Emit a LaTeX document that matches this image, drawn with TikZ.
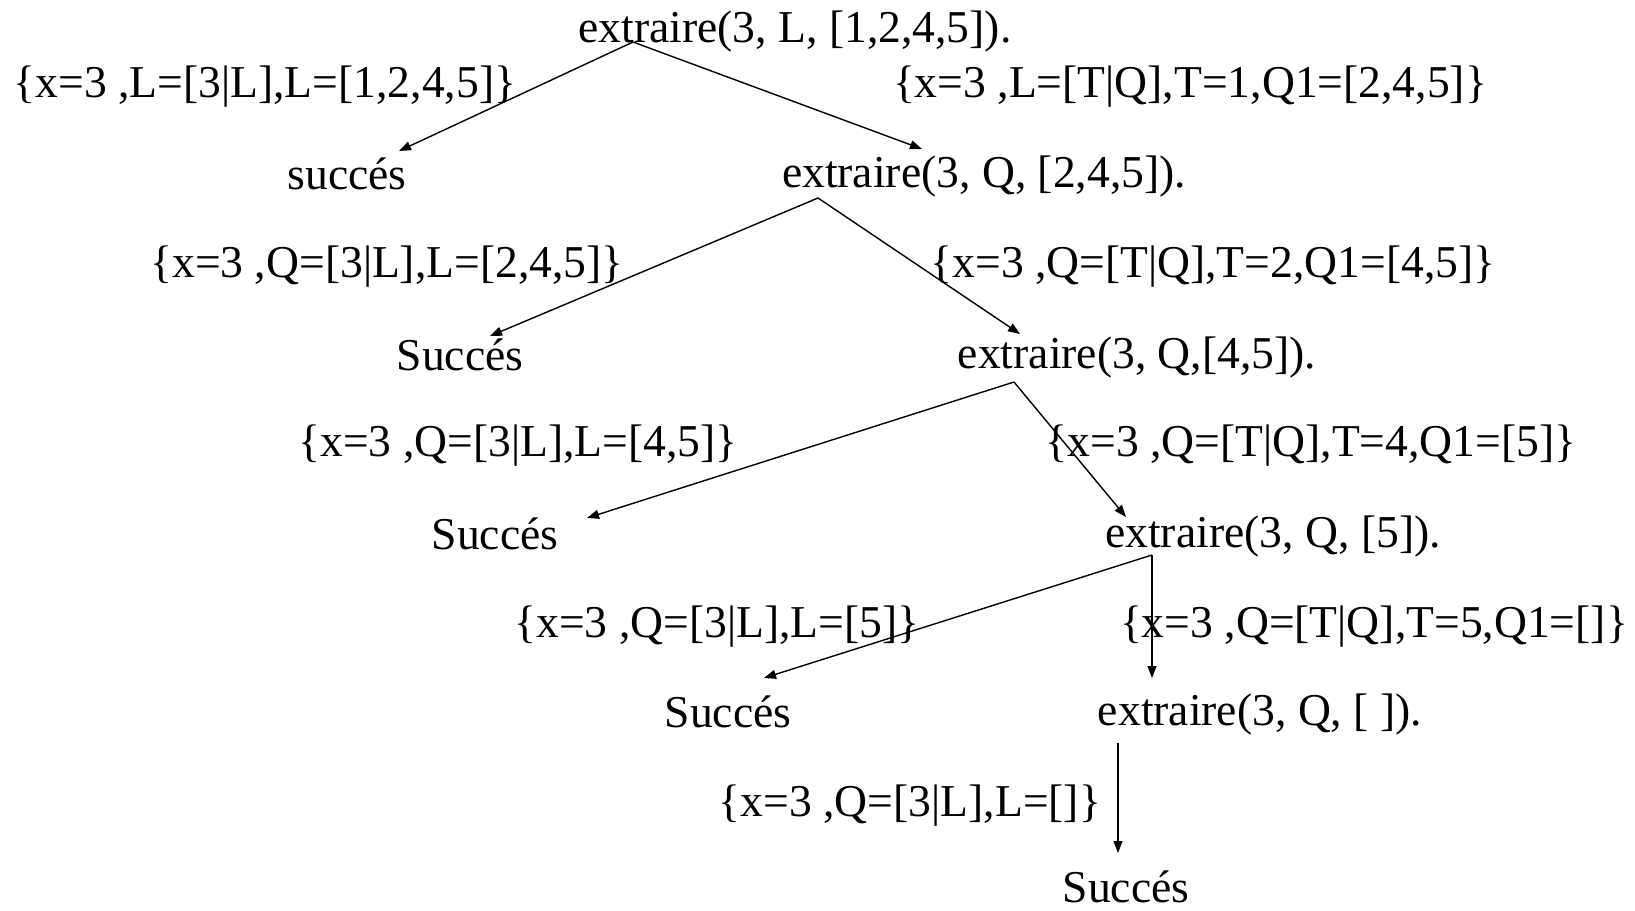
\documentclass[tikz,border=0pt]{standalone}
\usepackage{fontspec}
\setmainfont{Liberation Serif}
\usetikzlibrary{arrows.meta}

\tikzset{
  goal/.style={inner sep=0pt, font=\fontsize{22.8}{26}\selectfont},
  subst/.style={inner sep=0pt, font=\fontsize{22.8}{26}\selectfont},
  edge/.style={-{Triangle[length=6pt,width=4.5pt]}, line width=0.7pt},
}

\begin{document}
\begin{tikzpicture}[x=0.5pt,y=-0.5pt]
    \useasboundingbox (0,0) rectangle (1635,911);

    % goals
    \node[goal] (r0) at (795,32) {extraire(3, L, [1,2,4,5]).};
    \node[goal] (s1) at (347,174) {succés};
    \node[goal] (r1) at (984,177) {extraire(3, Q, [2,4,5]).};
    \node[goal] (s2) at (460,355) {Succés};
    \node[goal] (r2) at (1137,358) {extraire(3, Q,[4,5]).};
    \node[goal] (s3) at (495,534) {Succés};
    \node[goal] (r3) at (1273,537) {extraire(3, Q, [5]).};
    \node[goal] (s4) at (728,712) {Succés};
    \node[goal] (r4) at (1260,715) {extraire(3, Q, [ ]).};
    \node[goal] (s5) at (1126,887) {Succés};

    % substitutions
    \node[subst] (l1) at (265,87) {\{x=3 ,L=[3|L],L=[1,2,4,5]\}};
    \node[subst] (t1) at (1190,87) {\{x=3 ,L=[T|Q],T=1,Q1=[2,4,5]\}};
    \node[subst] (l2) at (387,267) {\{x=3 ,Q=[3|L],L=[2,4,5]\}};
    \node[subst] (t2) at (1213,267) {\{x=3 ,Q=[T|Q],T=2,Q1=[4,5]\}};
    \node[subst] (l3) at (518,446) {\{x=3 ,Q=[3|L],L=[4,5]\}};
    \node[subst] (t3) at (1311,446) {\{x=3 ,Q=[T|Q],T=4,Q1=[5]\}};
    \node[subst] (l4) at (717,627) {\{x=3 ,Q=[3|L],L=[5]\}};
    \node[subst] (t4) at (1374,627) {\{x=3 ,Q=[T|Q],T=5,Q1=[]\}};
    \node[subst] (l5) at (910,806) {\{x=3 ,Q=[3|L],L=[]\}};

    \coordinate (r0out) at (633,42);
    \coordinate (s1in) at (399,151);
    \coordinate (r1in) at (922,149);
    \coordinate (r1out) at (818,198);
    \coordinate (s2in) at (490,336);
    \coordinate (r2in) at (1020,334);
    \coordinate (r2out) at (1014,382);
    \coordinate (s3in) at (587,518);
    \coordinate (r3in) at (1126,517);
    \coordinate (r3out) at (1152,555);
    \coordinate (s4in) at (764,678);
    \coordinate (r4in) at (1152,678);
    \coordinate (r4out) at (1118,743);
    \coordinate (s5in) at (1118,853);

    \foreach \a/\b in {r0out/s1in, r0out/r1in, r1out/s2in, r1out/r2in,
                       r2out/s3in, r2out/r3in, r3out/s4in, r3out/r4in, r4out/s5in}
        \draw[edge] (\a) -- (\b);
\end{tikzpicture}
\end{document}
